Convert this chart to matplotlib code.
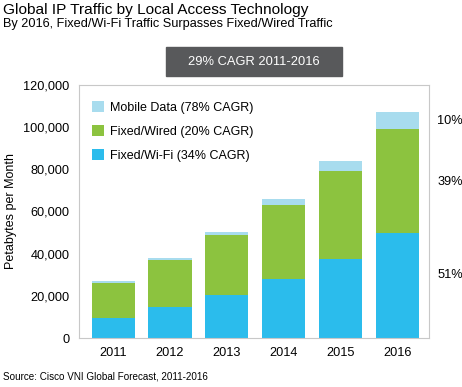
import matplotlib
matplotlib.use("Agg")
import matplotlib.pyplot as plt
import numpy as np

plt.rcParams['font.family'] = ['Liberation Sans', 'DejaVu Sans']

# values (petabytes per month)
years = ["2011", "2012", "2013", "2014", "2015", "2016"]
wifi = [9750, 14700, 20500, 27900, 37500, 50000]
wired = [16550, 22300, 28400, 35200, 41600, 48900]
mobile = [800, 1000, 1500, 2800, 4800, 8000]
series_names = ["Fixed/Wi-Fi (34% CAGR)", "Fixed/Wired (20% CAGR)", "Mobile Data (78% CAGR)"]
share_labels = ["51%", "39%", "10%"]
share_y = [29900, 73900, 102800]
yticks = [0, 20000, 40000, 60000, 80000, 100000, 120000]

c_wifi = "#2BBCEC"
c_wired = "#8CC33F"
c_mobile = "#A8DCEE"

fig = plt.figure(figsize=(4.62, 3.87), dpi=100)
ax = fig.add_axes([0.171, 0.126, 0.757, 0.655])

x = np.arange(len(years))
w = 0.76
ax.bar(x, wifi, w, color=c_wifi, label=series_names[0])
ax.bar(x, wired, w, bottom=wifi, color=c_wired, label=series_names[1])
bottom2 = np.array(wifi) + np.array(wired)
ax.bar(x, mobile, w, bottom=bottom2, color=c_mobile, label=series_names[2])

ax.set_xlim(-0.6, 5.55)
ax.set_ylim(0, 120000)
ax.set_xticks(x)
ax.set_xticklabels(years, fontsize=9.2)
ax.set_yticks(yticks)
ax.set_yticklabels([f"{v:,}" for v in yticks], fontsize=9.2)
ax.tick_params(length=0, pad=7)
ax.tick_params(axis='x', pad=6)
for s in ax.spines.values():
    s.set_color("#c8c8c8")
    s.set_linewidth(0.8)
ax.set_ylabel("Petabytes per Month", fontsize=9, labelpad=4)

# legend in reverse order, like the reference
h, l = ax.get_legend_handles_labels()
ax.legend(h[::-1], l[::-1], loc="upper left", bbox_to_anchor=(0.0, 0.985),
          frameon=False, fontsize=9, handlelength=1.0, handleheight=1.0,
          handletextpad=0.45, labelspacing=0.9, borderaxespad=0.6)

for lab, yv in zip(share_labels, share_y):
    ax.text(1.025, yv, lab, transform=ax.get_yaxis_transform(),
            fontsize=9.2, va="center", ha="left")

fig.text(0.007, 0.974, "Global IP Traffic by Local Access Technology",
         fontsize=11.1, va="center", ha="left")
fig.text(0.007, 0.937, "By 2016, Fixed/Wi-Fi Traffic Surpasses Fixed/Wired Traffic",
         fontsize=9.2, va="center", ha="left")
fig.text(0.55, 0.84, "29% CAGR 2011-2016", fontsize=9.3, color="white",
         va="center", ha="center")
fig.patches.append(plt.Rectangle((166 / 462, 1 - 76 / 387), 176 / 462, 29 / 387,
                                 transform=fig.transFigure, color="#58595B",
                                 zorder=0, figure=fig))
fig.text(0.007, 0.026, "Source: Cisco VNI Global Forecast, 2011-2016",
         fontsize=7.1, va="center", ha="left")

fig.savefig("out.png", dpi=100)
